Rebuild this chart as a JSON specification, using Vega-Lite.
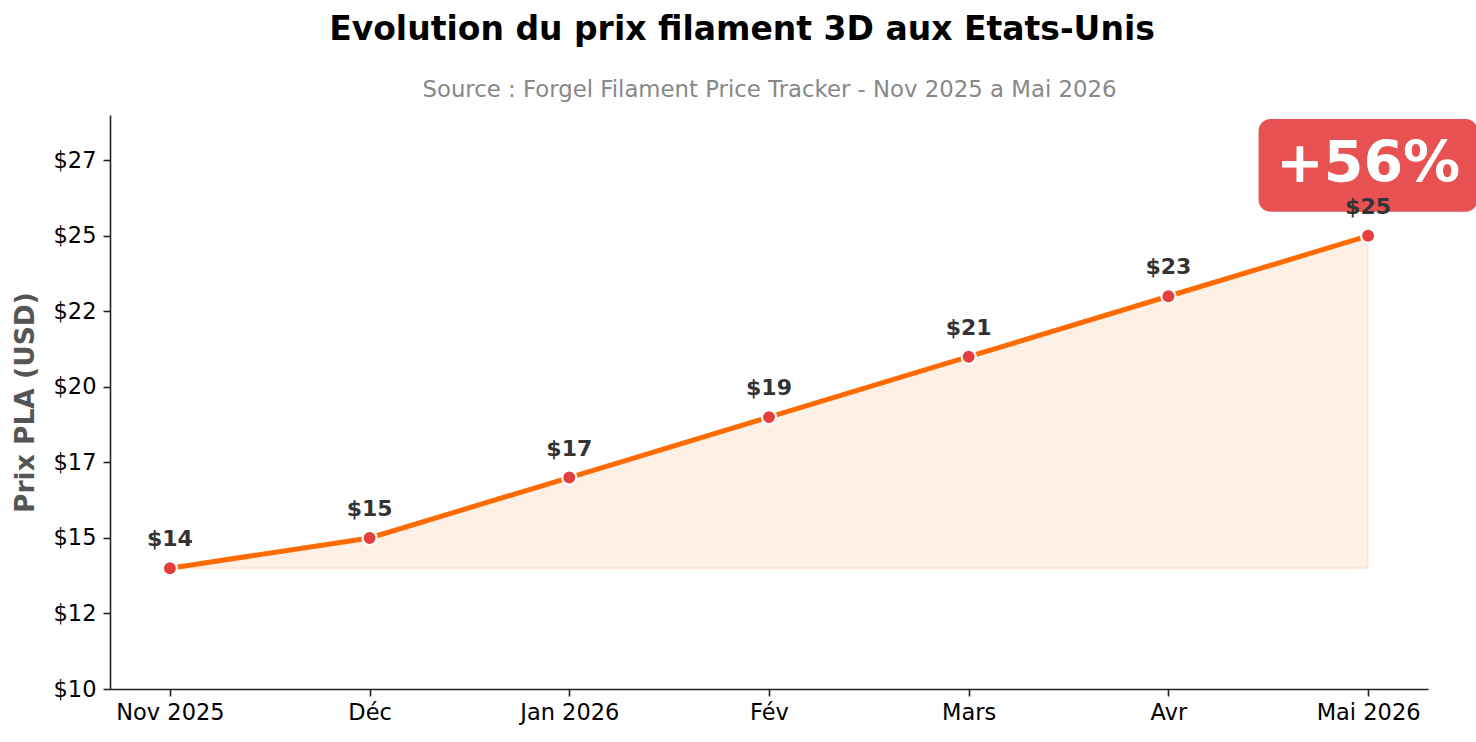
{
  "$schema": "https://vega.github.io/schema/vega-lite/v6.json",
  "width": 1318,
  "height": 574,
  "autosize": {"type": "none"},
  "padding": {"left": 110, "top": 115, "right": 48, "bottom": 53},
  "background": "white",
  "config": {"view": {"stroke": null}, "font": "DejaVu Sans"},
  "title": {
    "text": "Evolution du prix filament 3D aux Etats-Unis",
    "font": "DejaVu Sans",
    "fontSize": 33,
    "fontWeight": "bold",
    "color": "black",
    "anchor": "middle",
    "dx": -27,
    "offset": 31
  },
  "data": {
    "values": [
      {"month": "Nov 2025", "price": 14},
      {"month": "Déc", "price": 15},
      {"month": "Jan 2026", "price": 17},
      {"month": "Fév", "price": 19},
      {"month": "Mars", "price": 21},
      {"month": "Avr", "price": 23},
      {"month": "Mai 2026", "price": 25}
    ]
  },
  "encoding": {
    "y": {
      "field": "price",
      "type": "quantitative",
      "scale": {"domain": [10, 29], "nice": false, "zero": false},
      "axis": {
        "title": "Prix PLA (USD)",
        "titleFont": "DejaVu Sans",
        "titleFontSize": 26.5,
        "titleFontWeight": "bold",
        "titleColor": "#555555",
        "titlePadding": 14,
        "values": [10, 12.5, 15, 17.5, 20, 22.5, 25, 27.5],
        "labelExpr": "'$' + floor(datum.value)",
        "labelFont": "DejaVu Sans",
        "labelFontSize": 22.5,
        "labelColor": "black",
        "labelPadding": 7,
        "tickSize": 7,
        "tickWidth": 1.6,
        "tickColor": "#222222",
        "domainColor": "#222222",
        "domainWidth": 1.6,
        "grid": false
      }
    }
  },
  "layer": [
    {
      "mark": {"type": "area", "fill": "#FF6B00", "fillOpacity": 0.1, "stroke": "#FF6B00", "strokeOpacity": 0.1, "strokeWidth": 2},
      "encoding": {
        "x": {
          "field": "month", "type": "ordinal", "sort": null,
          "scale": {"type": "point", "padding": 0.3},
          "axis": {
            "title": null,
            "labelAngle": 0,
            "labelFont": "DejaVu Sans",
            "labelFontSize": 22.5,
            "labelColor": "black",
            "labelPadding": 5,
            "tickSize": 7,
            "tickWidth": 1.6,
            "tickColor": "#222222",
            "domainColor": "#222222",
            "domainWidth": 1.6,
            "grid": false
          }
        },
        "y2": {"datum": 14}
      }
    },
    {
      "mark": {"type": "line", "color": "#FF6B00", "strokeWidth": 5},
      "encoding": {
        "x": {
          "field": "month", "type": "ordinal", "sort": null,
          "axis": {
            "orient": "top",
            "title": "Source : Forgel Filament Price Tracker - Nov 2025 a Mai 2026",
            "titleFont": "DejaVu Sans",
            "titleFontSize": 22.8,
            "titleFontWeight": "normal",
            "titleColor": "#888888",
            "titlePadding": 14,
            "labels": false,
            "ticks": false,
            "domain": false,
            "grid": false
          }
        }
      }
    },
    {
      "mark": {"type": "circle", "color": "#E53E3E", "stroke": "white", "strokeWidth": 2.2, "size": 200, "opacity": 1},
      "encoding": {
        "x": {"field": "month", "type": "ordinal", "sort": null, "axis": null}
      }
    },
    {
      "transform": [{"filter": "datum.month === 'Mai 2026'"}],
      "mark": {"type": "bar", "width": 219, "cornerRadius": 12, "fill": "#E53E3E", "opacity": 0.9},
      "encoding": {
        "x": {"field": "month", "type": "ordinal", "sort": null, "axis": null},
        "y": {"datum": 25.8, "type": "quantitative", "title": "Prix PLA (USD)"},
        "y2": {"datum": 28.87}
      }
    },
    {
      "transform": [{"filter": "datum.month === 'Mai 2026'"}],
      "mark": {"type": "text", "text": "+56%", "font": "DejaVu Sans", "fontSize": 57, "fontWeight": "bold", "color": "white", "align": "center", "baseline": "alphabetic"},
      "encoding": {
        "x": {"field": "month", "type": "ordinal", "sort": null, "axis": null},
        "y": {"datum": 26.78, "type": "quantitative", "title": "Prix PLA (USD)"}
      }
    },
    {
      "mark": {"type": "text", "font": "DejaVu Sans", "fontSize": 22, "fontWeight": "bold", "color": "#333333", "align": "center", "baseline": "alphabetic", "dy": -22},
      "encoding": {
        "x": {"field": "month", "type": "ordinal", "sort": null, "axis": null},
        "text": {"field": "price", "type": "quantitative", "format": "$.0f"}
      }
    }
  ],
  "resolve": {"axis": {"x": "independent"}}
}
